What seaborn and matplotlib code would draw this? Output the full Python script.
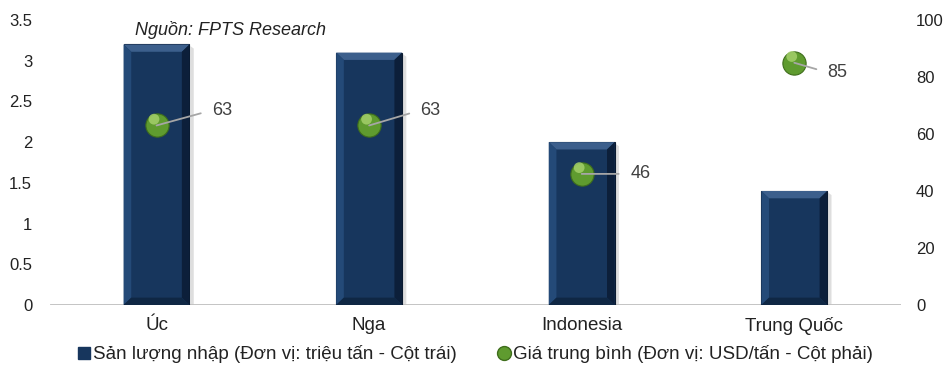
import matplotlib
matplotlib.use('Agg')
import matplotlib.pyplot as plt
from matplotlib.patches import Polygon
from matplotlib.lines import Line2D
import seaborn as sns
import pandas as pd

sns.set_theme(style='white')
plt.rcParams['font.family'] = ['Liberation Sans', 'DejaVu Sans']

countries = ['Úc', 'Nga', 'Indonesia', 'Trung Quốc']
volume = [3.2, 3.1, 2.0, 1.4]      # triệu tấn (left axis)
price = [63, 63, 46, 85]           # USD/tấn (right axis)
left_ticks = [0, 0.5, 1, 1.5, 2, 2.5, 3, 3.5]
right_ticks = [0, 20, 40, 60, 80, 100]

df = pd.DataFrame({'country': countries, 'volume': volume, 'price': price})

navy = '#17365d'
green = '#5f9b2f'
txt = '#222222'

fig = plt.figure(figsize=(9.48, 3.71), dpi=100)
ax = fig.add_axes([0.053, 0.178, 0.897, 0.768])

sns.barplot(data=df, x='country', y='volume', color=navy, width=0.31,
            saturation=1, edgecolor='#0a1a30', linewidth=0.8, ax=ax, zorder=2)

# bevel + soft shadow, built from each bar's own geometry
bx, by = 0.036, 0.09
for p in ax.patches:
    x0, y0 = p.get_x(), p.get_y()
    w, h = p.get_width(), p.get_height()
    x1, y1 = x0 + w, y0 + h
    ax.add_patch(Polygon([(x1 + 0.004, y0), (x1 + 0.02, y0), (x1 + 0.02, y1 - 0.05), (x1 + 0.004, y1 - 0.02)],
                         closed=True, facecolor='#c9c9c9', edgecolor='none', alpha=0.6, zorder=1))
    ax.add_patch(Polygon([(x0, y1), (x1, y1), (x1 - bx, y1 - by), (x0 + bx, y1 - by)],
                         closed=True, facecolor='#3c5f8c', edgecolor='none', zorder=3))
    ax.add_patch(Polygon([(x1, y1), (x1, y0), (x1 - bx, y0 + by), (x1 - bx, y1 - by)],
                         closed=True, facecolor='#0c1f3a', edgecolor='none', zorder=3))
    ax.add_patch(Polygon([(x0, y1), (x0, y0), (x0 + bx, y0 + by), (x0 + bx, y1 - by)],
                         closed=True, facecolor='#244a78', edgecolor='none', zorder=3))
    ax.add_patch(Polygon([(x0, y0), (x1, y0), (x1 - bx, y0 + by), (x0 + bx, y0 + by)],
                         closed=True, facecolor='#0f2744', edgecolor='none', zorder=3))

ax.set_ylim(0, 3.5)
ax.set_yticks(left_ticks)
ax.set_yticklabels(['0', '0.5', '1', '1.5', '2', '2.5', '3', '3.5'])
ax.set_xlim(-0.5, 3.5)
ax.set_xlabel('')
ax.set_ylabel('')
ax.tick_params(axis='both', length=0, labelsize=12, colors=txt)
ax.tick_params(axis='x', pad=9, labelsize=13.5)
ax.tick_params(axis='y', pad=13)
for s in ax.spines.values():
    s.set_visible(False)
ax.axhline(0, color='#bfbfbf', linewidth=2, zorder=1)

ax2 = ax.twinx()
sns.scatterplot(data=df, x='country', y='price', s=280, color=green,
                edgecolor='#3f6e1c', linewidth=0.8, ax=ax2, zorder=5, legend=False)
# highlight for sphere look
sns.scatterplot(x=[i - 0.012 for i in range(len(price))], y=[v + 2.2 for v in price], s=60,
                color='#a8d36e', edgecolor='none', alpha=0.8, ax=ax2, zorder=6, legend=False)
ax2.set_ylim(0, 100)
ax2.set_yticks(right_ticks)
ax2.set_ylabel('')
ax2.tick_params(axis='y', length=0, labelsize=12, colors=txt, pad=11)
for s in ax2.spines.values():
    s.set_visible(False)

offsets = [(40, 11), (37, 11), (35, 0), (24, -7)]
for i, v in enumerate(price):
    ax2.annotate(str(v), xy=(i, v), xytext=offsets[i], textcoords='offset points',
                 ha='left', va='center', fontsize=13, color='#404040', zorder=7,
                 arrowprops=dict(arrowstyle='-', color='#a6a6a6', lw=1.3,
                                 shrinkA=6, shrinkB=0, relpos=(0, 0.5)))

fig.text(0.142, 0.905, 'Nguồn: FPTS Research', style='italic', fontsize=13, color=txt)

handles = [
    Line2D([], [], marker='s', linestyle='none', color=navy, markersize=8),
    Line2D([], [], marker='o', linestyle='none', color=green, markeredgecolor='#3f6e1c', markersize=10),
]
fig.legend(handles, ['Sản lượng nhập (Đơn vị: triệu tấn - Cột trái)',
                     'Giá trung bình (Đơn vị: USD/tấn - Cột phải)'],
           loc='center', bbox_to_anchor=(0.5, 0.045), ncol=2, frameon=False,
           fontsize=13.5, handletextpad=0.0, columnspacing=2.0, handlelength=1.0,
           labelcolor=txt)

fig.savefig('out.png', dpi=100)
